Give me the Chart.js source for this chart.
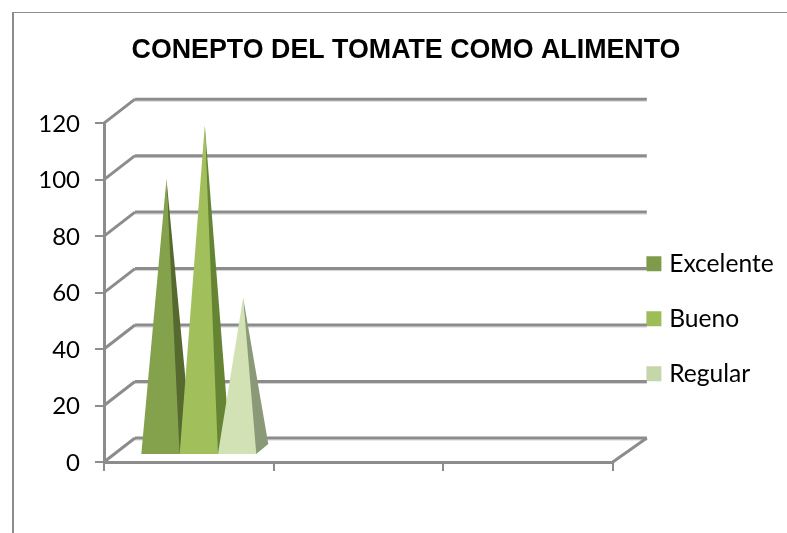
<!DOCTYPE html>
<html>
<head>
<meta charset="utf-8">
<title>Concepto del tomate como alimento</title>
<script src="https://cdn.jsdelivr.net/npm/chart.js@4/dist/chart.umd.min.js"></script>
<style>
  html, body { margin: 0; padding: 0; background: #fff; }
  #wrap { position: absolute; left: 0; top: 0; width: 787px; height: 533px; overflow: hidden; }
  #frame { position: absolute; left: 12px; top: 12px; width: 775px; height: 521px;
           border-left: 2px solid #8c8c8c; border-top: 1px solid #8c8c8c; }
  canvas { position: absolute; left: 0; top: 0; }
</style>
</head>
<body>
<div id="wrap">
  <div id="frame"></div>
  <canvas id="myChart" width="787" height="533"></canvas>
</div>
<script>
const chartTitle = "CONEPTO DEL TOMATE COMO ALIMENTO";
const categories = ["", "", ""];
const excelente = [96, null, null];
const bueno = [115, null, null];
const regular = [54, null, null];
const yTicks = [0, 20, 40, 60, 80, 100, 120];

// depth of the fake 3d box, in px
const wallDx = 31, wallDxRight = 34, wallDy = -24;
// the pyramids stand a little way back on the floor
const baseDx = 10, baseDy = -7, sideDx = 12, sideDy = -10;
const lineColor = "#8c8c8c";

function line(ctx, x1, y1, x2, y2, color, width) {
  ctx.strokeStyle = color;
  ctx.lineWidth = width;
  ctx.beginPath();
  ctx.moveTo(x1, y1);
  ctx.lineTo(x2, y2);
  ctx.stroke();
}

// back wall and floor, taken from the y scale ticks
const wallPlugin = {
  id: "wall",
  beforeDatasetsDraw(chart) {
    const ctx = chart.ctx;
    const yScale = chart.scales.y;
    const left = chart.chartArea.left, right = chart.chartArea.right;
    ctx.save();
    yScale.ticks.forEach(function (tick) {
      const y = yScale.getPixelForValue(tick.value);
      line(ctx, left + wallDx, y + wallDy + 2, right + wallDxRight, y + wallDy + 2, "#d4d4d4", 1);
      line(ctx, left + wallDx, y + wallDy, right + wallDxRight, y + wallDy, lineColor, 3);
      line(ctx, left, y, left + wallDx, y + wallDy, lineColor, 3);
    });
    const y0 = yScale.getPixelForValue(0);
    line(ctx, right, y0, right + wallDxRight, y0 + wallDy, lineColor, 3);
    ctx.restore();
  }
};

// pyramids in place of the bars, first series underneath
const pyramidPlugin = {
  id: "pyramid",
  beforeDatasetsDraw(chart) {
    const ctx = chart.ctx;
    chart.data.datasets.forEach(function (ds, i) {
      chart.getDatasetMeta(i).data.forEach(function (bar, j) {
        if (ds.data[j] === null) return;
        const xl = bar.x - bar.width / 2 + baseDx;
        const xr = bar.x + bar.width / 2 + baseDx;
        const yb = bar.base + baseDy;
        const ax = (xl + xr) / 2 + sideDx / 2;
        const ay = bar.y + baseDy + sideDy / 2;
        ctx.fillStyle = ds.sideColor;
        ctx.beginPath();
        ctx.moveTo(xr - 4, yb);
        ctx.lineTo(xr, yb);
        ctx.lineTo(xr + sideDx, yb + sideDy);
        ctx.lineTo(ax, ay);
        ctx.closePath();
        ctx.fill();
        ctx.fillStyle = ds.faceColor;
        ctx.beginPath();
        ctx.moveTo(xl, yb);
        ctx.lineTo(xr, yb);
        ctx.lineTo(ax, ay);
        ctx.closePath();
        ctx.fill();
      });
    });
    return false;
  }
};

const legendPlugin = {
  id: "legendPlace",
  afterLayout(chart) {
    chart.legend.left = 620.5;
    chart.legend.top = 221;
  }
};

var ctx = document.getElementById("myChart").getContext("2d");
var chart = new Chart(ctx, {
  type: "bar",
  data: {
    labels: categories,
    datasets: [
      // the wide border fills out the legend swatch, so the text sits closer to it
      { label: "Excelente", data: excelente, backgroundColor: "#7f9b4a", borderColor: "#7f9b4a", borderWidth: 9, faceColor: "#84a14c", sideColor: "#56692e" },
      { label: "Bueno", data: bueno, backgroundColor: "#9dbd58", borderColor: "#9dbd58", borderWidth: 9, faceColor: "#a1c05c", sideColor: "#668534" },
      { label: "Regular", data: regular, backgroundColor: "#c6d6ab", borderColor: "#c6d6ab", borderWidth: 9, faceColor: "#d2e2b5", sideColor: "#8a9a78" }
    ]
  },
  options: {
    responsive: false,
    animation: false,
    categoryPercentage: 0.678,
    barPercentage: 1,
    layout: { padding: { left: 36, right: 11, top: 0, bottom: 0 } },
    plugins: {
      title: {
        display: true,
        text: chartTitle,
        color: "#000",
        font: { family: "'Liberation Sans'", weight: "bold", size: 26.8 },
        padding: { top: 35, bottom: 56 }
      },
      legend: {
        position: "right",
        align: "start",
        onClick: null,
        labels: {
          boxWidth: 6,
          boxHeight: 6,
          padding: 30.4,
          color: "#000",
          font: { family: "Lato", size: 24.6 }
        }
      },
      tooltip: { enabled: false }
    },
    scales: {
      x: {
        grid: { drawOnChartArea: false, color: lineColor, tickLength: 9, lineWidth: 2, offset: true },
        border: { color: lineColor, width: 3 },
        ticks: { display: false },
        afterFit(scale) { scale.height = 71; }
      },
      y: {
        min: 0,
        max: 120,
        afterBuildTicks(scale) { scale.ticks = yTicks.map(function (v) { return { value: v }; }); },
        grid: { drawOnChartArea: false, color: lineColor, tickLength: 9, lineWidth: 2 },
        border: { color: lineColor, width: 3 },
        ticks: {
          color: "#000",
          padding: 15,
          labelOffset: 1,
          font: { family: "Lato", size: 24 }
        },
        afterFit(scale) { scale.width = 68; }
      }
    }
  },
  plugins: [wallPlugin, pyramidPlugin, legendPlugin]
});
console.log(chart.chartArea);
</script>
</body>
</html>
